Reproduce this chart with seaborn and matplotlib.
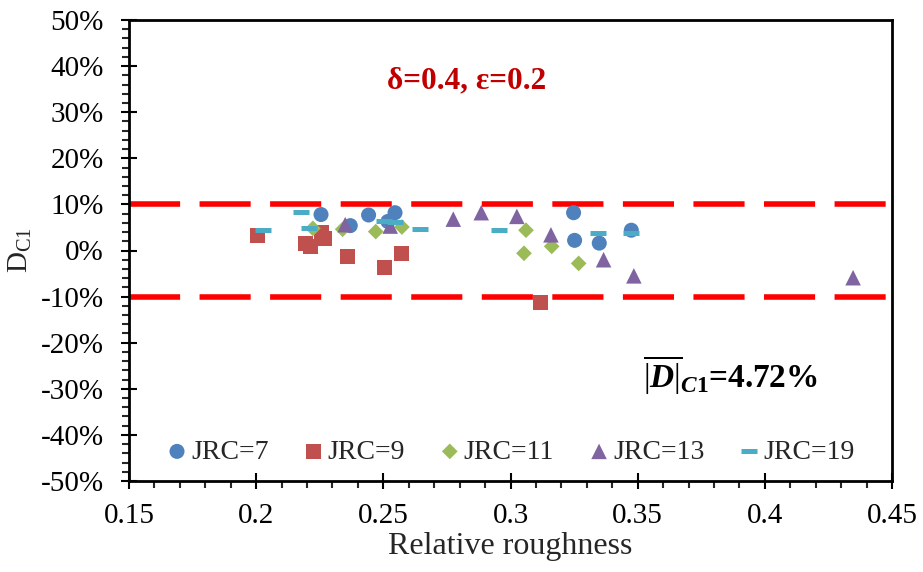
import matplotlib
matplotlib.use("Agg")
import matplotlib.pyplot as plt
from matplotlib.ticker import MultipleLocator, FuncFormatter
import seaborn as sns
import pandas as pd

# Deviation D_C1 (%) against relative roughness, one series per JRC profile
jrc7_x = [0.2255, 0.2370, 0.2442, 0.2518, 0.2546, 0.3248, 0.3252, 0.3349, 0.3475]
jrc7_y = [7.8, 5.4, 7.7, 6.3, 8.2, 8.2, 2.2, 1.6, 4.4]

jrc9_x = [0.2006, 0.2195, 0.2215, 0.2255, 0.2270, 0.2359, 0.2505, 0.2572, 0.3117]
jrc9_y = [3.3, 1.6, 0.8, 3.9, 2.6, -1.4, -3.6, -0.6, -11.2]

jrc11_x = [0.2223, 0.2340, 0.2470, 0.2573, 0.3061, 0.3053, 0.3162, 0.3268]
jrc11_y = [4.8, 4.6, 4.1, 5.1, 4.4, -0.6, 0.9, -2.8]

jrc13_x = [0.2350, 0.2527, 0.2775, 0.2885, 0.3025, 0.3159, 0.3366, 0.3485, 0.4347]
jrc13_y = [5.6, 5.3, 6.8, 8.2, 7.4, 3.4, -2.0, -5.5, -5.9]

jrc19_x = [0.2026, 0.2177, 0.2207, 0.2502, 0.2545, 0.2645, 0.2956, 0.3343, 0.3475]
jrc19_y = [4.4, 8.3, 4.9, 6.3, 6.1, 4.7, 4.4, 3.8, 3.7]

series_labels = ["JRC=7", "JRC=9", "JRC=11", "JRC=13", "JRC=19"]
thresholds = [10, -10]
mean_abs_dev = 4.72

sns.set_theme(style="ticks")
plt.rcParams["font.family"] = ["Liberation Serif", "DejaVu Serif"]
plt.rcParams["mathtext.fontset"] = "custom"
plt.rcParams["mathtext.rm"] = "Liberation Serif"
plt.rcParams["mathtext.it"] = "Liberation Serif:italic"
plt.rcParams["mathtext.bf"] = "Liberation Serif:bold"
plt.rcParams["mathtext.bfit"] = "Liberation Serif:bold:italic"

fig = plt.figure(figsize=(9.23, 5.72), dpi=100)
ax = fig.add_axes([129 / 923, 1 - 481 / 572, 763 / 923, 461 / 572])

styles = [
    (jrc7_x, jrc7_y, "o", "#4F81BD", 117),
    (jrc9_x, jrc9_y, "s", "#C0504D", 117),
    (jrc11_x, jrc11_y, "D", "#9BBB59", 64),
    (jrc13_x, jrc13_y, "^", "#8064A2", 125),
]
for (xs, ys, mk, col, size), lab in zip(styles, series_labels[:4]):
    df = pd.DataFrame({"x": xs, "y": ys})
    sns.scatterplot(data=df, x="x", y="y", marker=mk, color=col, s=size,
                    edgecolor="none", linewidth=0, label=lab, ax=ax, zorder=3)

df19 = pd.DataFrame({"x": jrc19_x, "y": jrc19_y})
sns.scatterplot(data=df19, x="x", y="y", marker="_", color="#4BACC6", s=135,
                linewidth=3.6, label=series_labels[4], ax=ax, zorder=3)

# +/-10% tolerance band
for t in thresholds:
    ax.axhline(t, color="#FF0000", lw=4, dashes=(9.2, 3.5), zorder=2)

ax.set_xlim(0.15, 0.45)
ax.set_ylim(-50, 50)
ax.xaxis.set_major_locator(MultipleLocator(0.05))
ax.xaxis.set_minor_locator(MultipleLocator(0.01))
ax.yaxis.set_major_locator(MultipleLocator(10))
ax.yaxis.set_minor_locator(MultipleLocator(2))
ax.xaxis.set_major_formatter(FuncFormatter(lambda v, p: f"{v:g}"))
ax.yaxis.set_major_formatter(FuncFormatter(lambda v, p: f"{v:.0f}%"))

ax.tick_params(which="major", direction="inout", length=12, width=1.5,
               labelsize=21, colors="black")
ax.tick_params(axis="y", which="major", pad=12)
ax.tick_params(axis="x", which="major", pad=10)
ax.tick_params(which="minor", direction="out", length=5, width=1.5)

for sp in ax.spines.values():
    sp.set_color("black")
    sp.set_linewidth(2)
ax.grid(False)
ax.set_facecolor("white")

ax.set_xlabel("Relative roughness", fontsize=23, labelpad=2)
ax.set_ylabel(r"D$_{\mathrm{C1}}$", fontsize=21)
ax.yaxis.set_label_coords(-0.124, 0.5)

ax.text(0.2828, 35.1, "\u03b4=0.4, \u03b5=0.2", ha="center", va="baseline",
        color="#C00000", fontsize=22.5, fontweight="bold")
ax.text(0.3522, -29.7,
        r"$\overline{|\mathbfit{D}|}_{\mathbfit{C}\mathbf{1}}$" + f"={mean_abs_dev}%",
        ha="left", va="baseline", fontsize=24, fontweight="bold", color="black")

ax.legend(loc="center left", bbox_to_anchor=(0.052, 0.063), ncol=5,
          frameon=False, fontsize=20, handlelength=0.6, handletextpad=0.2,
          columnspacing=1.32, borderpad=0, borderaxespad=0)

fig.savefig("out.png", dpi=100, facecolor="white")
